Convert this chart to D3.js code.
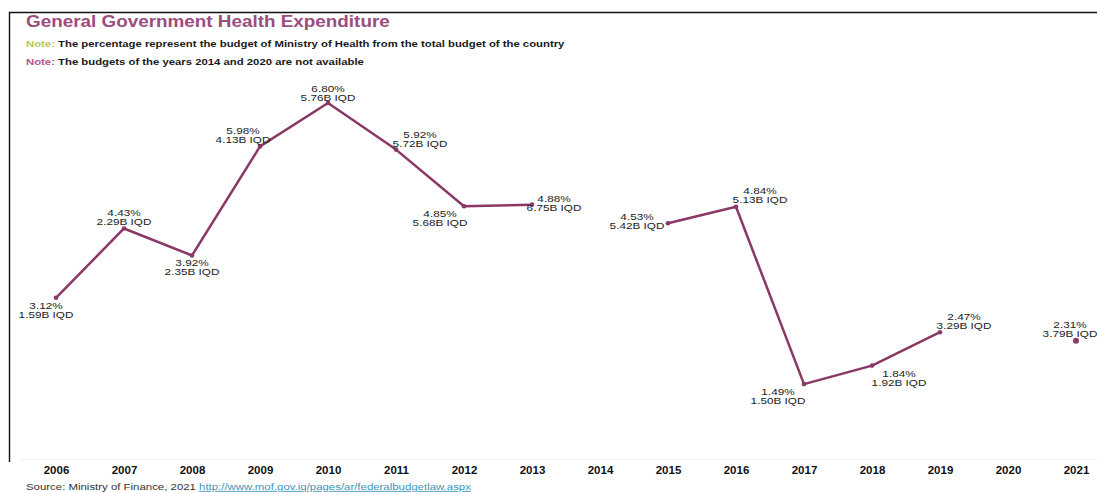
<!DOCTYPE html>
<html>
<head>
<meta charset="utf-8">
<script src="https://cdn.jsdelivr.net/npm/d3@7"></script>
<style>
  html, body { margin: 0; padding: 0; background: #fff; }
  svg { display: block; }
</style>
</head>
<body>
<svg id="chart" width="1097" height="492"></svg>
<script>
// Ministry of Health share of the total state budget, and the health budget itself
const years   = ["2006","2007","2008","2009","2010","2011","2012","2013","2014","2015","2016","2017","2018","2019","2020","2021"];
const percent = [3.12, 4.43, 3.92, 5.98, 6.80, 5.92, 4.85, 4.88, null, 4.53, 4.84, 1.49, 1.84, 2.47, null, 2.31];
const budget  = ["1.59B","2.29B","2.35B","4.13B","5.76B","5.72B","5.68B","6.75B", null,"5.42B","5.13B","1.50B","1.92B","3.29B", null,"3.79B"];

const data = years.map((y, i) => ({ year: y, pct: percent[i], budget: budget[i] }));

const svg = d3.select("#chart");
const lineColor = "#8a3866";
const FONT = "Liberation Sans, Arial, sans-serif";
const WIDE = 1.26;   // text in this layout is set slightly extended

// frame (top and left edges)
svg.append("path")
  .attr("d", `M9.5,462 V12.5 H1097`)
  .attr("fill", "none").attr("stroke", "#111").attr("stroke-width", 1.4);

// a text element placed at (x, y) and stretched horizontally
function wideText(x, y, sx) {
  return svg.append("text")
    .attr("transform", `translate(${x},${y}) scale(${sx},1)`)
    .attr("font-family", FONT);
}

// heading and notes
wideText(26, 27, 1.18)
  .attr("font-weight", "bold").attr("font-size", 16)
  .attr("fill", "#9a4d7e")
  .text("General Government Health Expenditure");

const notes = [
  { label: "Note:", color: "#b5cc5a", text: " The percentage represent the budget of Ministry of Health from the total budget of the country", y: 47 },
  { label: "Note:", color: "#b0588e", text: " The budgets of the years 2014 and 2020 are not available", y: 65 }
];
notes.forEach(n => {
  const t = wideText(26, n.y, WIDE)
    .attr("font-weight", "bold").attr("font-size", 9);
  t.append("tspan").attr("fill", n.color).text(n.label);
  t.append("tspan").attr("fill", "#1a1a1a").text(n.text);
});

// scales
const x = d3.scalePoint().domain(years).range([56, 1076]);
const y = d3.scaleLinear().domain([0, 6.8]).range([463, 103]);

// faint baseline
svg.append("line")
  .attr("x1", 20).attr("x2", 1097)
  .attr("y1", 459.5).attr("y2", 459.5)
  .attr("stroke", "#f2f2f2").attr("stroke-width", 1);

// year axis
const axis = svg.append("g")
  .attr("transform", "translate(0,463)")
  .call(d3.axisBottom(x).tickSize(0).tickPadding(3));
axis.select(".domain").remove();
axis.selectAll("text")
  .attr("font-family", "Liberation Sans Narrow, Arial Narrow, Liberation Sans, sans-serif")
  .attr("font-weight", "bold").attr("font-size", 11.5)
  .attr("fill", "#111");

// line with gaps for the missing years
const line = d3.line()
  .defined(d => d.pct != null)
  .x(d => x(d.year))
  .y(d => y(d.pct));

svg.append("path")
  .datum(data)
  .attr("d", line)
  .attr("fill", "none")
  .attr("stroke", lineColor)
  .attr("stroke-width", 2.5)
  .attr("stroke-linejoin", "round");

const valid = data.filter(d => d.pct != null);

svg.selectAll("circle.pt")
  .data(valid)
  .join("circle")
  .attr("class", "pt")
  .attr("cx", d => x(d.year))
  .attr("cy", d => y(d.pct))
  .attr("r", d => d.year === "2021" ? 3 : 2.3)
  .attr("fill", lineColor);

// where each value label sits relative to its point
const placement = {
  "2006": [-10,  8],
  "2007": [  0, -15],
  "2008": [  0,  8],
  "2009": [-17, -15],
  "2010": [  0, -14],
  "2011": [ 24, -15],
  "2012": [-24,  8],
  "2013": [ 22, -6],
  "2015": [-31, -6],
  "2016": [ 24, -16],
  "2017": [-26,  8],
  "2018": [ 27,  8],
  "2019": [ 24, -15],
  "2021": [ -6, -16]
};

const labels = svg.selectAll("text.val")
  .data(valid)
  .join("text")
  .attr("class", "val")
  .attr("text-anchor", "middle")
  .attr("font-family", FONT)
  .attr("font-size", 9.4)
  .attr("fill", "#222")
  .attr("transform", d => {
    const p = placement[d.year];
    return `translate(${x(d.year) + p[0]},${y(d.pct) + p[1]}) scale(1.25,1)`;
  });
labels.append("tspan").attr("x", 0).attr("y", 3).text(d => d.pct.toFixed(2) + "%");
labels.append("tspan").attr("x", 0).attr("y", 12).text(d => d.budget + " IQD");

// source line
const src = wideText(26, 490, 1.27).attr("font-size", 9);
src.append("tspan").attr("fill", "#333").text("Source: Ministry of Finance, 2021 ");
src.append("tspan").attr("fill", "#3f94b5").attr("text-decoration", "underline")
  .text("http://www.mof.gov.iq/pages/ar/federalbudgetlaw.aspx");
</script>
</body>
</html>
